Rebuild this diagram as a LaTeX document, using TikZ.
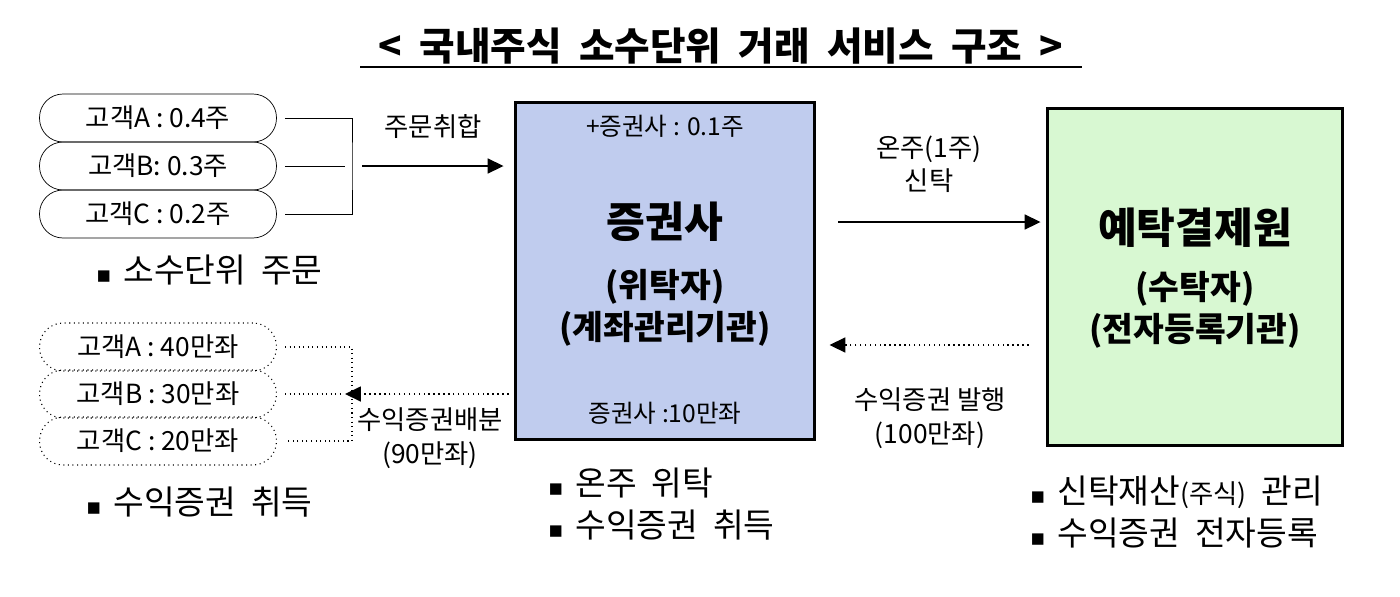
\documentclass[tikz,border=0pt]{standalone}
\usepackage{fontspec}
\setmainfont{Noto Sans CJK KR}
\newfontfamily\symfont{DejaVu Sans}
\usetikzlibrary{arrows.meta,positioning}

\definecolor{secblue}{RGB}{192,204,238}
\definecolor{ksdgreen}{RGB}{216,248,210}
\newcommand{\blt}{{\symfont\fontsize{13}{13}\selectfont ▪}\hspace{0.35em}}
\newcommand{\wgap}{\hspace{0.45em}}

\tikzset{
  pill/.style={draw, rounded corners=0.47cm, minimum width=4.74cm, minimum height=0.96cm,
    inner sep=0pt, font=\fontsize{15}{17}\selectfont},
  dotpill/.style={pill, dotted, line width=0.6pt},
  bigbox/.style={draw, line width=1.7pt, minimum height=6.76cm, inner sep=0pt},
  lbl/.style={font=\fontsize{15}{19}\selectfont, align=center},
  boxtxt/.style={font=\fontsize{14}{16}\selectfont},
  bullets/.style={font=\fontsize{19}{23.5}\selectfont, align=left, anchor=west},
  flow/.style={line width=0.8pt, -{Triangle[length=9pt,width=8.5pt]}},
}

\begin{document}
\begin{tikzpicture}[x=0.02cm, y=-0.02cm]
  \useasboundingbox (0,0) rectangle (1400,596);

  % title
  \node[font=\bfseries\fontsize{22}{26}\selectfont] (title) at (721,46)
    {<\wgap 국내주식\wgap 소수단위\wgap 거래\wgap 서비스\wgap 구조\wgap >};
  \draw[line width=1pt] (360,67) -- (1082,67);

  % customers, orders
  \node[pill] (ordA) at (158,118) {고객A : 0.4주};
  \node[pill] (ordB) at (158,166) {고객B: 0.3주};
  \node[pill] (ordC) at (158,214) {고객C : 0.2주};
  \node[bullets] (ordnote) at (90,270) {\blt 소수단위\wgap 주문};

  % customers, accounts
  \node[dotpill] (accA) at (158,347) {고객A : 40만좌};
  \node[dotpill] (accB) at (158,394) {고객B : 30만좌};
  \node[dotpill] (accC) at (158,441) {고객C : 20만좌};
  \node[bullets] (accnote) at (80,502) {\blt 수익증권\wgap 취득};

  % securities firm
  \node[bigbox, fill=secblue, minimum width=6cm] (sec) at (665,271) {};
  \node[boxtxt] (secshare) at (665,126) {+증권사 : 0.1주};
  \node[font=\bfseries\fontsize{24}{28}\selectfont] (secname) at (665,222) {증권사};
  \node[font=\bfseries\fontsize{19}{24}\selectfont, align=center] (secrole) at (665,308)
    {(위탁자)\\(계좌관리기관)};
  \node[boxtxt] (secacc) at (665,413) {증권사 :10만좌};
  \node[bullets] (secnote) at (542,504)
    {\blt 온주\wgap 위탁\\\blt 수익증권\wgap 취득};

  % depository
  \node[bigbox, fill=ksdgreen, minimum width=5.92cm] (ksd) at (1195,277) {};
  \node[font=\bfseries\fontsize{24}{28}\selectfont] (ksdname) at (1195,228) {예탁결제원};
  \node[font=\bfseries\fontsize{19}{24}\selectfont, align=center] (ksdrole) at (1195,310)
    {(수탁자)\\(전자등록기관)};
  \node[bullets] (ksdnote) at (1024,512)
    {\blt 신탁재산{\fontsize{15}{15}\selectfont(주식)}\wgap 관리\\\blt 수익증권\wgap 전자등록};

  % order flow
  \coordinate (ordjoin) at (352,166);
  \draw (ordA.east) ++(8,0) -| (ordjoin) |- ([xshift=0.16cm]ordC.east);
  \draw ([xshift=0.16cm]ordB.east) -- ([xshift=-0.14cm]ordjoin);
  \draw[flow] ([xshift=0.2cm]ordjoin) -- ([xshift=-0.2cm]sec.west |- ordjoin);
  \node[lbl] (ordlbl) at (433,127) {주문취합};

  % trust flow
  \coordinate (trustrow) at (0,222);
  \draw[flow, shorten <=0.44cm, shorten >=0.1cm] (sec.east |- trustrow) -- (ksd.west |- trustrow);
  \node[lbl] (trustlbl) at (929,164) {온주(1주)\\신탁};

  % issue flow
  \coordinate (issuerow) at (0,345);
  \draw[flow, dotted, shorten <=0.34cm, shorten >=0.26cm] (ksd.west |- issuerow) -- (sec.east |- issuerow);
  \node[lbl] (issuelbl) at (930,418) {수익증권 발행\\(100만좌)};

  % allocation flow
  \coordinate (accjoin) at (352,394);
  \draw[dotted, line width=0.6pt] (accA.east) ++(8,0) -| (accjoin) |- ([xshift=0.16cm]accC.east);
  \draw[dotted, line width=0.6pt] ([xshift=0.16cm]accB.east) -- ([xshift=-0.2cm]accjoin);
  \draw[flow, dotted, shorten <=0.1cm] (sec.west |- accjoin) -- ([xshift=-0.14cm]accjoin);
  \node[lbl] (alloclbl) at (430,438) {수익증권배분\\(90만좌)};
\end{tikzpicture}
\end{document}
